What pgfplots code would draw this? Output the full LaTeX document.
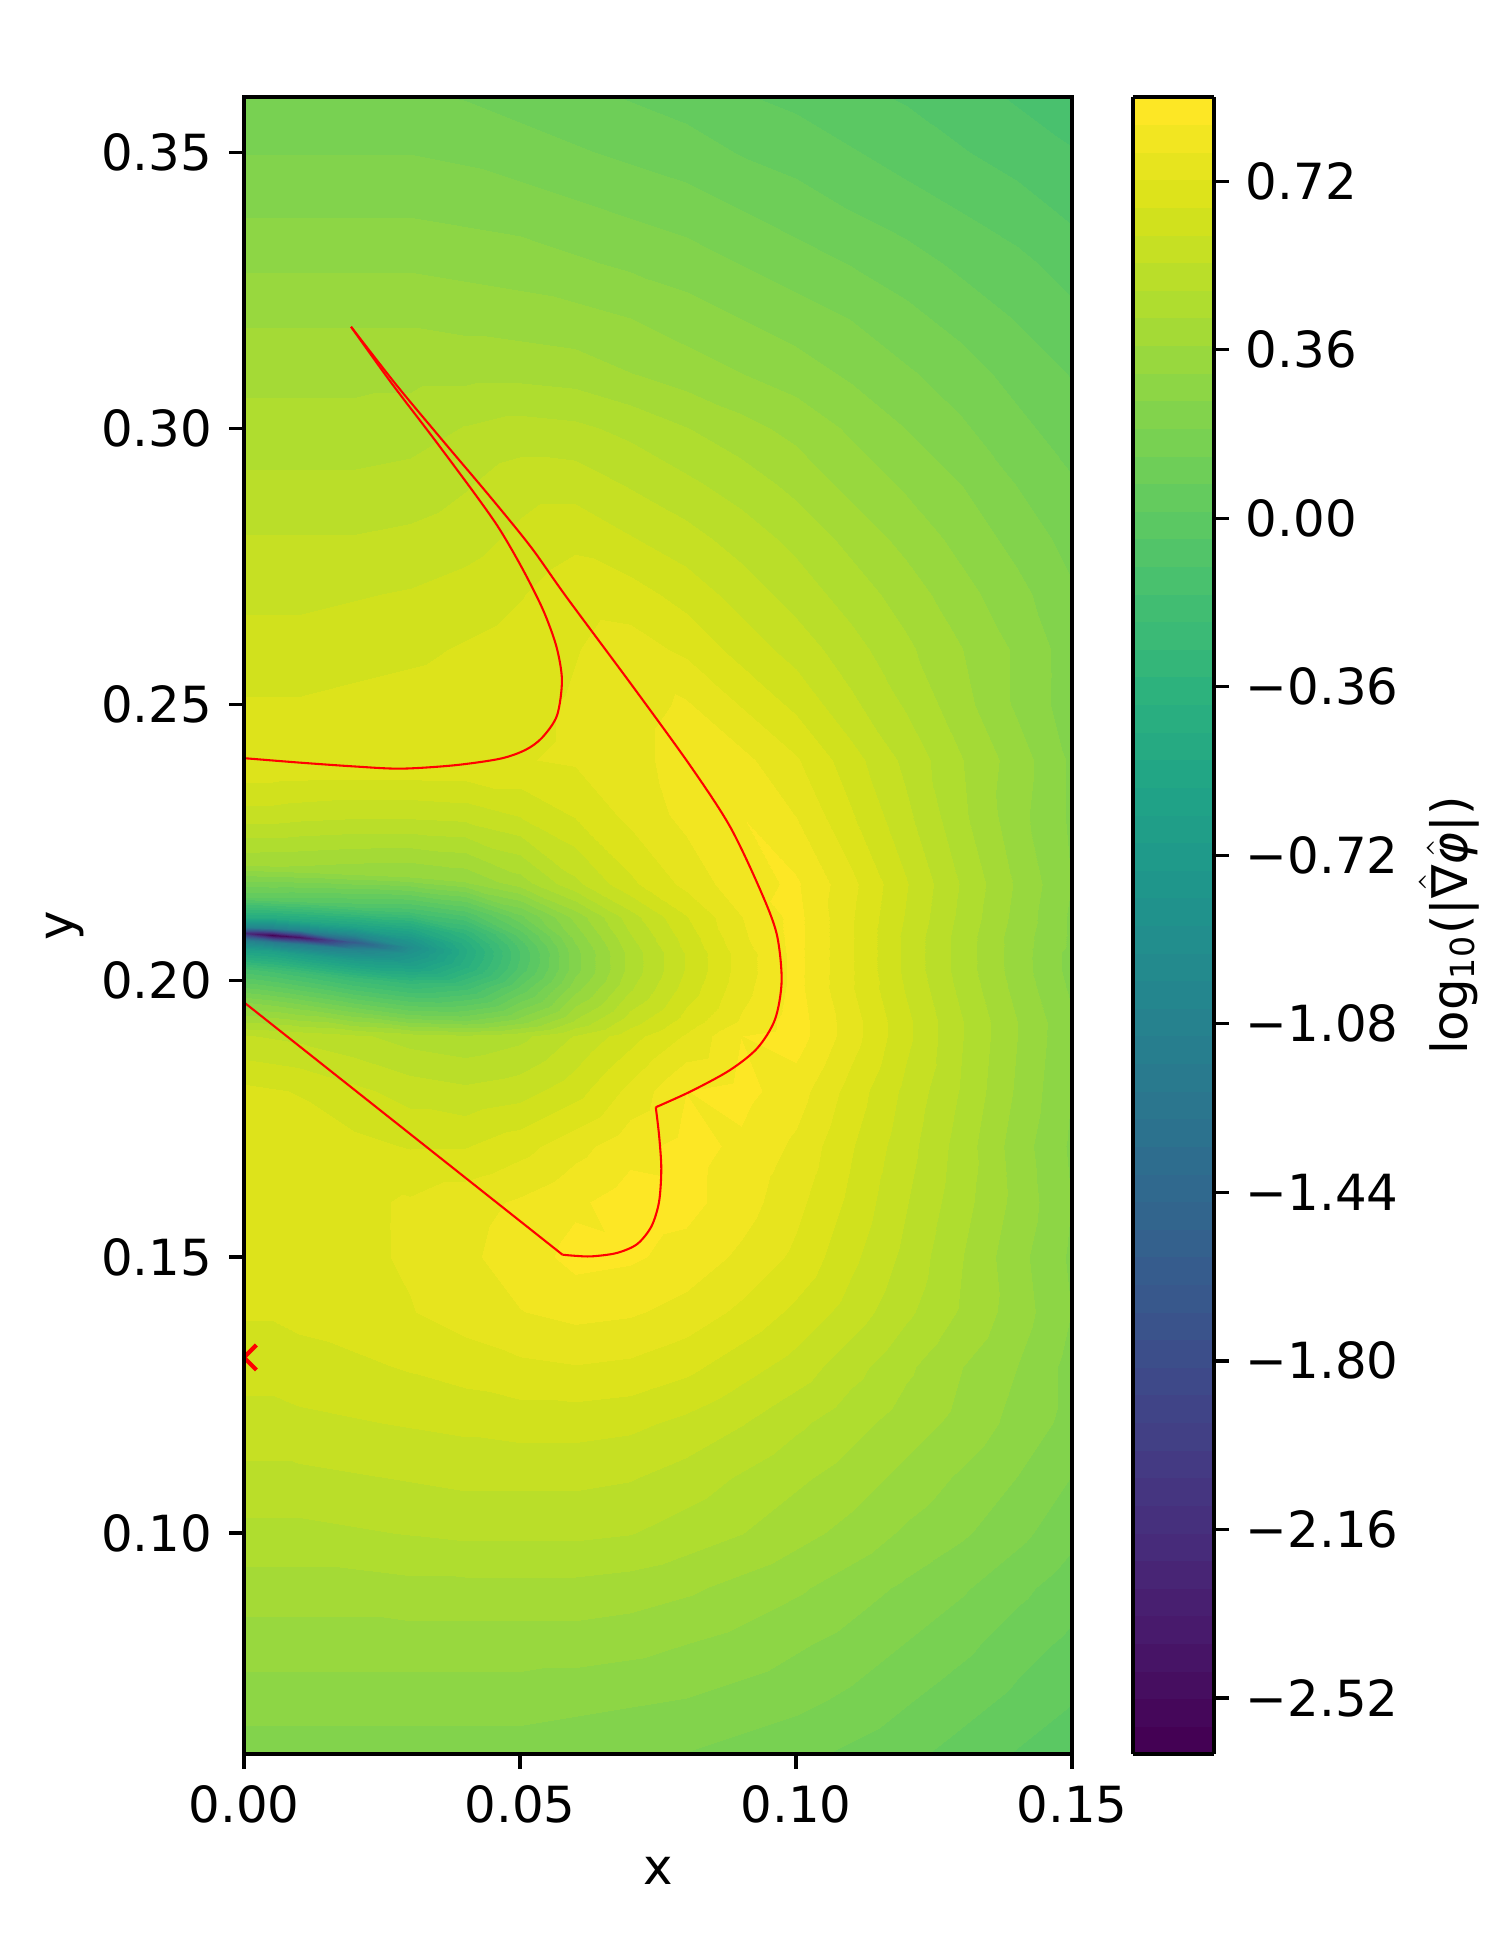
\documentclass[12pt,border=0pt]{standalone}
\usepackage{fontspec}
\setmainfont{DejaVu Sans}
\usepackage{pgfplots}
\pgfplotsset{compat=1.18}
\pgfplotsset{colormap/viridis}
\pgfplotsset{colormap={vir60}{samples of colormap=(60 of viridis)}}
\begin{document}
\begin{tikzpicture}
\useasboundingbox (-0.8133in,-0.6533in) rectangle (4.1867in,5.8467in);
\begin{axis}[
  scale only axis,
  width=2.76in, height=5.5233in,
  xmin=0, xmax=0.15, ymin=0.06, ymax=0.36,
  axis on top,
  colormap name=vir60,
  colormap access=piecewise constant,
  point meta min=-2.64, point meta max=0.90,
  xtick={0,0.05,0.10,0.15}, xticklabels={0.00,0.05,0.10,0.15},
  ytick={0.10,0.15,0.20,0.25,0.30,0.35}, yticklabels={0.10,0.15,0.20,0.25,0.30,0.35},
  tick align=outside, xtick pos=left, ytick pos=left,
  major tick length=3.5pt,
  tick style={black, line width=0.8pt},
  axis line style={line width=0.8pt},
  xlabel={x}, ylabel={y},
  ylabel style={at={(axis description cs:-0.2165,0.5)}, anchor=center},
  clip marker paths=true,
  colorbar right,
  colorbar shift/.style={},
  colorbar style={
    at={(parent axis.north east)}, anchor=north west, xshift=0.2033in,
    width=0.27in,
    ytick={-2.52,-2.16,-1.80,-1.44,-1.08,-0.72,-0.36,0,0.36,0.72},
    yticklabels={−2.52,−2.16,−1.80,−1.44,−1.08,−0.72,−0.36,0.00,0.36,0.72},
    tick align=outside, ytick pos=right, yticklabel pos=right,
    major tick length=3.5pt,
    tick style={black, line width=0.8pt},
    axis line style={line width=0.8pt},
    ylabel={log\textsubscript{10}(|$\hat{\mbox{∇}}\hat{\mbox{\itshape φ}}$|)},
    ylabel style={at={(axis description cs:3.9,0.5)}, anchor=center, rotate=0},
  },
]
\addplot[surf, shader=interp, mesh/cols=17, point meta=explicit] table[x=x, y=y, meta=v] {
x y v
0 0.06 0.22
0.005 0.06 0.22
0.01 0.06 0.22
0.02 0.06 0.22
0.03 0.06 0.22
0.04 0.06 0.22
0.05 0.06 0.22
0.06 0.06 0.21
0.07 0.06 0.20
0.08 0.06 0.19
0.09 0.06 0.17
0.10 0.06 0.15
0.11 0.06 0.12
0.12 0.06 0.09
0.13 0.06 0.05
0.14 0.06 0.01
0.15 0.06 -0.03

0 0.07 0.28
0.005 0.07 0.28
0.01 0.07 0.28
0.02 0.07 0.28
0.03 0.07 0.28
0.04 0.07 0.28
0.05 0.07 0.28
0.06 0.07 0.27
0.07 0.07 0.26
0.08 0.07 0.25
0.09 0.07 0.23
0.10 0.07 0.21
0.11 0.07 0.18
0.12 0.07 0.14
0.13 0.07 0.10
0.14 0.07 0.06
0.15 0.07 0.02

0 0.08 0.34
0.005 0.08 0.34
0.01 0.08 0.34
0.02 0.08 0.34
0.03 0.08 0.34
0.04 0.08 0.34
0.05 0.08 0.34
0.06 0.08 0.34
0.07 0.08 0.33
0.08 0.08 0.31
0.09 0.08 0.29
0.10 0.08 0.26
0.11 0.08 0.23
0.12 0.08 0.19
0.13 0.08 0.15
0.14 0.08 0.10
0.15 0.08 0.06

0 0.09 0.40
0.005 0.09 0.40
0.01 0.09 0.40
0.02 0.09 0.40
0.03 0.09 0.41
0.04 0.09 0.41
0.05 0.09 0.41
0.06 0.09 0.41
0.07 0.09 0.40
0.08 0.09 0.38
0.09 0.09 0.35
0.10 0.09 0.32
0.11 0.09 0.28
0.12 0.09 0.24
0.13 0.09 0.20
0.14 0.09 0.15
0.15 0.09 0.10

0 0.10 0.47
0.005 0.10 0.47
0.01 0.10 0.47
0.02 0.10 0.48
0.03 0.10 0.49
0.04 0.10 0.50
0.05 0.10 0.50
0.06 0.10 0.50
0.07 0.10 0.49
0.08 0.10 0.46
0.09 0.10 0.43
0.10 0.10 0.39
0.11 0.10 0.35
0.12 0.10 0.30
0.13 0.10 0.26
0.14 0.10 0.21
0.15 0.10 0.15

0 0.11 0.53
0.005 0.11 0.53
0.01 0.11 0.53
0.02 0.11 0.54
0.03 0.11 0.55
0.04 0.11 0.56
0.05 0.11 0.56
0.06 0.11 0.56
0.07 0.11 0.55
0.08 0.11 0.52
0.09 0.11 0.48
0.10 0.11 0.44
0.11 0.11 0.40
0.12 0.11 0.35
0.13 0.11 0.30
0.14 0.11 0.25
0.15 0.11 0.19

0 0.12 0.58
0.005 0.12 0.58
0.01 0.12 0.59
0.02 0.12 0.60
0.03 0.12 0.61
0.04 0.12 0.62
0.05 0.12 0.63
0.06 0.12 0.63
0.07 0.12 0.62
0.08 0.12 0.59
0.09 0.12 0.55
0.10 0.12 0.50
0.11 0.12 0.45
0.12 0.12 0.40
0.13 0.12 0.35
0.14 0.12 0.29
0.15 0.12 0.23

0 0.13 0.63
0.005 0.13 0.63
0.01 0.13 0.64
0.02 0.13 0.65
0.03 0.13 0.67
0.04 0.13 0.69
0.05 0.13 0.71
0.06 0.13 0.72
0.07 0.13 0.71
0.08 0.13 0.68
0.09 0.13 0.63
0.10 0.13 0.58
0.11 0.13 0.51
0.12 0.13 0.44
0.13 0.13 0.37
0.14 0.13 0.31
0.15 0.13 0.23

0 0.14 0.67
0.005 0.14 0.67
0.01 0.14 0.68
0.02 0.14 0.70
0.03 0.14 0.72
0.04 0.14 0.75
0.05 0.14 0.78
0.06 0.14 0.80
0.07 0.14 0.79
0.08 0.14 0.76
0.09 0.14 0.71
0.10 0.14 0.65
0.11 0.14 0.58
0.12 0.14 0.50
0.13 0.14 0.42
0.14 0.14 0.34
0.15 0.14 0.25

0 0.15 0.69
0.005 0.15 0.69
0.01 0.15 0.69
0.02 0.15 0.71
0.03 0.15 0.73
0.04 0.15 0.77
0.05 0.15 0.81
0.06 0.15 0.86
0.07 0.15 0.85
0.08 0.15 0.82
0.09 0.15 0.77
0.10 0.15 0.71
0.11 0.15 0.62
0.12 0.15 0.53
0.13 0.15 0.43
0.14 0.15 0.33
0.15 0.15 0.24

0 0.16 0.70
0.005 0.16 0.70
0.01 0.16 0.70
0.02 0.16 0.71
0.03 0.16 0.73
0.04 0.16 0.76
0.05 0.16 0.79
0.06 0.16 0.83
0.07 0.16 0.87
0.08 0.16 0.86
0.09 0.16 0.81
0.10 0.16 0.74
0.11 0.16 0.65
0.12 0.16 0.55
0.13 0.16 0.45
0.14 0.16 0.35
0.15 0.16 0.25

0 0.17 0.70
0.005 0.17 0.70
0.01 0.17 0.70
0.02 0.17 0.68
0.03 0.17 0.66
0.04 0.17 0.66
0.05 0.17 0.70
0.06 0.17 0.76
0.07 0.17 0.82
0.08 0.17 0.86
0.09 0.17 0.83
0.10 0.17 0.77
0.11 0.17 0.67
0.12 0.17 0.57
0.13 0.17 0.46
0.14 0.17 0.34
0.15 0.17 0.24

0 0.18 0.68
0.005 0.18 0.67
0.01 0.18 0.66
0.02 0.18 0.62
0.03 0.18 0.58
0.04 0.18 0.56
0.05 0.18 0.58
0.06 0.18 0.64
0.07 0.18 0.74
0.08 0.18 0.84
0.09 0.18 0.86
0.10 0.18 0.81
0.11 0.18 0.70
0.12 0.18 0.59
0.13 0.18 0.48
0.14 0.18 0.36
0.15 0.18 0.25

0 0.19 0.55
0.005 0.19 0.54
0.01 0.19 0.53
0.02 0.19 0.50
0.03 0.19 0.46
0.04 0.19 0.44
0.05 0.19 0.47
0.06 0.19 0.55
0.07 0.19 0.64
0.08 0.19 0.73
0.09 0.19 0.84
0.10 0.19 0.87
0.11 0.19 0.75
0.12 0.19 0.62
0.13 0.19 0.49
0.14 0.19 0.37
0.15 0.19 0.26

0 0.1961 0.25
0.005 0.1958 0.24
0.01 0.1954 0.22
0.02 0.1945 0.18
0.03 0.1937 0.15
0.04 0.1931 0.17
0.05 0.1927 0.28
0.06 0.1925 0.44
0.07 0.1925 0.58
0.08 0.1925 0.69
0.09 0.1925 0.79
0.10 0.1925 0.87
0.11 0.1925 0.75
0.12 0.1925 0.62
0.13 0.1925 0.49
0.14 0.1925 0.37
0.15 0.1925 0.26

0 0.2021 -0.15
0.005 0.2018 -0.17
0.01 0.2014 -0.20
0.02 0.2005 -0.26
0.03 0.1997 -0.30
0.04 0.1991 -0.20
0.05 0.1987 0.03
0.06 0.1985 0.29
0.07 0.1985 0.48
0.08 0.1985 0.63
0.09 0.1985 0.76
0.10 0.1985 0.86
0.11 0.1985 0.73
0.12 0.1985 0.60
0.13 0.1985 0.47
0.14 0.1985 0.35
0.15 0.1985 0.24

0 0.2056 -0.62
0.005 0.2053 -0.64
0.01 0.2049 -0.67
0.02 0.2040 -0.72
0.03 0.2032 -0.68
0.04 0.2026 -0.42
0.05 0.2022 -0.08
0.06 0.2020 0.23
0.07 0.2020 0.45
0.08 0.2020 0.61
0.09 0.2020 0.75
0.10 0.2020 0.86
0.11 0.2020 0.73
0.12 0.2020 0.59
0.13 0.2020 0.46
0.14 0.2020 0.34
0.15 0.2020 0.23

0 0.2074 -1.10
0.005 0.2071 -1.15
0.01 0.2067 -1.15
0.02 0.2058 -1.05
0.03 0.2050 -0.82
0.04 0.2044 -0.46
0.05 0.2040 -0.10
0.06 0.2038 0.23
0.07 0.2038 0.45
0.08 0.2038 0.61
0.09 0.2038 0.75
0.10 0.2038 0.86
0.11 0.2038 0.73
0.12 0.2038 0.59
0.13 0.2038 0.46
0.14 0.2038 0.34
0.15 0.2038 0.23

0 0.2086 -2.20
0.005 0.2083 -2.60
0.01 0.2079 -2.45
0.02 0.2070 -1.60
0.03 0.2062 -0.90
0.04 0.2056 -0.47
0.05 0.2052 -0.10
0.06 0.2050 0.23
0.07 0.2050 0.45
0.08 0.2050 0.61
0.09 0.2050 0.75
0.10 0.2050 0.86
0.11 0.2050 0.73
0.12 0.2050 0.59
0.13 0.2050 0.46
0.14 0.2050 0.34
0.15 0.2050 0.23

0 0.2098 -1.00
0.005 0.2095 -1.05
0.01 0.2091 -1.05
0.02 0.2082 -1.00
0.03 0.2074 -0.78
0.04 0.2068 -0.43
0.05 0.2064 -0.08
0.06 0.2062 0.24
0.07 0.2062 0.46
0.08 0.2062 0.62
0.09 0.2062 0.76
0.10 0.2062 0.86
0.11 0.2062 0.73
0.12 0.2062 0.59
0.13 0.2062 0.46
0.14 0.2062 0.34
0.15 0.2062 0.24

0 0.2116 -0.45
0.005 0.2113 -0.48
0.01 0.2109 -0.52
0.02 0.2100 -0.57
0.03 0.2092 -0.55
0.04 0.2086 -0.33
0.05 0.2082 -0.02
0.06 0.2080 0.27
0.07 0.2080 0.48
0.08 0.2080 0.63
0.09 0.2080 0.77
0.10 0.2080 0.86
0.11 0.2080 0.73
0.12 0.2080 0.59
0.13 0.2080 0.46
0.14 0.2080 0.34
0.15 0.2080 0.24

0 0.2151 0.02
0.005 0.2148 0.00
0.01 0.2144 -0.03
0.02 0.2135 -0.08
0.03 0.2127 -0.14
0.04 0.2121 -0.08
0.05 0.2117 0.12
0.06 0.2115 0.33
0.07 0.2115 0.52
0.08 0.2115 0.66
0.09 0.2115 0.78
0.10 0.2115 0.86
0.11 0.2115 0.73
0.12 0.2115 0.60
0.13 0.2115 0.47
0.14 0.2115 0.35
0.15 0.2115 0.24

0 0.2211 0.38
0.005 0.2208 0.37
0.01 0.2204 0.36
0.02 0.2195 0.33
0.03 0.2187 0.31
0.04 0.2181 0.32
0.05 0.2177 0.40
0.06 0.2175 0.53
0.07 0.2175 0.65
0.08 0.2175 0.74
0.09 0.2175 0.82
0.10 0.2175 0.85
0.11 0.2175 0.74
0.12 0.2175 0.61
0.13 0.2175 0.48
0.14 0.2175 0.36
0.15 0.2175 0.25

0 0.23 0.58
0.005 0.23 0.58
0.01 0.23 0.57
0.02 0.23 0.56
0.03 0.23 0.56
0.04 0.23 0.57
0.05 0.23 0.61
0.06 0.23 0.67
0.07 0.23 0.74
0.08 0.23 0.80
0.09 0.23 0.84
0.10 0.23 0.78
0.11 0.23 0.67
0.12 0.23 0.56
0.13 0.23 0.44
0.14 0.23 0.33
0.15 0.23 0.24

0 0.24 0.72
0.005 0.24 0.72
0.01 0.24 0.72
0.02 0.24 0.72
0.03 0.24 0.72
0.04 0.24 0.72
0.05 0.24 0.72
0.06 0.24 0.73
0.07 0.24 0.76
0.08 0.24 0.81
0.09 0.24 0.80
0.10 0.24 0.73
0.11 0.24 0.63
0.12 0.24 0.53
0.13 0.24 0.43
0.14 0.24 0.34
0.15 0.24 0.24

0 0.25 0.67
0.005 0.25 0.67
0.01 0.25 0.67
0.02 0.25 0.68
0.03 0.25 0.69
0.04 0.25 0.70
0.05 0.25 0.71
0.06 0.25 0.73
0.07 0.25 0.76
0.08 0.25 0.79
0.09 0.25 0.72
0.10 0.25 0.65
0.11 0.25 0.56
0.12 0.25 0.48
0.13 0.25 0.39
0.14 0.25 0.30
0.15 0.25 0.22

0 0.26 0.63
0.005 0.26 0.63
0.01 0.26 0.63
0.02 0.26 0.64
0.03 0.26 0.65
0.04 0.26 0.67
0.05 0.26 0.69
0.06 0.26 0.72
0.07 0.26 0.75
0.08 0.26 0.71
0.09 0.26 0.64
0.10 0.26 0.58
0.11 0.26 0.51
0.12 0.26 0.44
0.13 0.26 0.37
0.14 0.26 0.30
0.15 0.26 0.22

0 0.27 0.59
0.005 0.27 0.59
0.01 0.27 0.59
0.02 0.27 0.60
0.03 0.27 0.61
0.04 0.27 0.63
0.05 0.27 0.66
0.06 0.27 0.70
0.07 0.27 0.69
0.08 0.27 0.64
0.09 0.27 0.58
0.10 0.27 0.52
0.11 0.27 0.46
0.12 0.27 0.40
0.13 0.27 0.33
0.14 0.27 0.27
0.15 0.27 0.20

0 0.28 0.55
0.005 0.28 0.55
0.01 0.28 0.55
0.02 0.28 0.55
0.03 0.28 0.56
0.04 0.28 0.58
0.05 0.28 0.62
0.06 0.28 0.65
0.07 0.28 0.61
0.08 0.28 0.57
0.09 0.28 0.52
0.10 0.28 0.47
0.11 0.28 0.41
0.12 0.28 0.35
0.13 0.28 0.29
0.14 0.28 0.23
0.15 0.28 0.17

0 0.29 0.50
0.005 0.29 0.50
0.01 0.29 0.50
0.02 0.29 0.50
0.03 0.29 0.51
0.04 0.29 0.54
0.05 0.29 0.58
0.06 0.29 0.58
0.07 0.29 0.54
0.08 0.29 0.50
0.09 0.29 0.46
0.10 0.29 0.41
0.11 0.29 0.35
0.12 0.29 0.30
0.13 0.29 0.25
0.14 0.29 0.19
0.15 0.29 0.14

0 0.30 0.45
0.005 0.30 0.45
0.01 0.30 0.45
0.02 0.30 0.45
0.03 0.30 0.46
0.04 0.30 0.49
0.05 0.30 0.51
0.06 0.30 0.50
0.07 0.30 0.47
0.08 0.30 0.43
0.09 0.30 0.39
0.10 0.30 0.35
0.11 0.30 0.30
0.12 0.30 0.25
0.13 0.30 0.20
0.14 0.30 0.15
0.15 0.30 0.10

0 0.31 0.41
0.005 0.31 0.41
0.01 0.31 0.41
0.02 0.31 0.41
0.03 0.31 0.41
0.04 0.31 0.41
0.05 0.31 0.41
0.06 0.31 0.40
0.07 0.31 0.37
0.08 0.31 0.34
0.09 0.31 0.31
0.10 0.31 0.28
0.11 0.31 0.24
0.12 0.31 0.20
0.13 0.31 0.16
0.14 0.31 0.11
0.15 0.31 0.07

0 0.32 0.36
0.005 0.32 0.36
0.01 0.32 0.36
0.02 0.32 0.36
0.03 0.32 0.36
0.04 0.32 0.35
0.05 0.32 0.34
0.06 0.32 0.33
0.07 0.32 0.31
0.08 0.32 0.28
0.09 0.32 0.25
0.10 0.32 0.22
0.11 0.32 0.19
0.12 0.32 0.15
0.13 0.32 0.11
0.14 0.32 0.07
0.15 0.32 0.03

0 0.33 0.30
0.005 0.33 0.30
0.01 0.33 0.30
0.02 0.33 0.30
0.03 0.33 0.30
0.04 0.33 0.29
0.05 0.33 0.28
0.06 0.33 0.26
0.07 0.33 0.24
0.08 0.33 0.22
0.09 0.33 0.19
0.10 0.33 0.16
0.11 0.33 0.13
0.12 0.33 0.10
0.13 0.33 0.06
0.14 0.33 0.03
0.15 0.33 -0.01

0 0.34 0.24
0.005 0.34 0.24
0.01 0.34 0.24
0.02 0.34 0.24
0.03 0.34 0.24
0.04 0.34 0.23
0.05 0.34 0.22
0.06 0.34 0.20
0.07 0.34 0.18
0.08 0.34 0.16
0.09 0.34 0.13
0.10 0.34 0.10
0.11 0.34 0.07
0.12 0.34 0.04
0.13 0.34 0.01
0.14 0.34 -0.02
0.15 0.34 -0.06

0 0.35 0.19
0.005 0.35 0.19
0.01 0.35 0.19
0.02 0.35 0.19
0.03 0.35 0.19
0.04 0.35 0.18
0.05 0.35 0.16
0.06 0.35 0.14
0.07 0.35 0.12
0.08 0.35 0.10
0.09 0.35 0.07
0.10 0.35 0.05
0.11 0.35 0.02
0.12 0.35 -0.01
0.13 0.35 -0.04
0.14 0.35 -0.07
0.15 0.35 -0.10

0 0.36 0.15
0.005 0.36 0.15
0.01 0.36 0.15
0.02 0.36 0.15
0.03 0.36 0.14
0.04 0.36 0.13
0.05 0.36 0.11
0.06 0.36 0.09
0.07 0.36 0.07
0.08 0.36 0.05
0.09 0.36 0.02
0.10 0.36 0.00
0.11 0.36 -0.03
0.12 0.36 -0.05
0.13 0.36 -0.08
0.14 0.36 -0.11
0.15 0.36 -0.13
};
\addplot[red, line width=0.5pt, no marks, smooth, tension=0.5] coordinates {
(0,0.2403) (0.0100,0.2395) (0.0200,0.2388) (0.0284,0.2384) (0.0380,0.2390) (0.0464,0.2402)
(0.0510,0.2418) (0.0540,0.2440) (0.0567,0.2480) (0.0576,0.2544) (0.0566,0.2605) (0.0542,0.2671)
(0.0505,0.2745) (0.0464,0.2816) (0.0423,0.2875) (0.0345,0.2980) (0.0265,0.3085) (0.0194,0.3184)
};
\addplot[red, line width=0.5pt, no marks, smooth, tension=0.5] coordinates {
(0.0194,0.3184) (0.0275,0.3080) (0.0360,0.2978) (0.0447,0.2875) (0.0520,0.2785) (0.0584,0.2695)
(0.0705,0.2532) (0.0808,0.2390) (0.0880,0.2280) (0.0935,0.2165) (0.0965,0.2085) (0.0974,0.2000)
(0.0962,0.1930) (0.0930,0.1878) (0.0880,0.1838) (0.0810,0.1800) (0.0746,0.1771)
};
\addplot[red, line width=0.5pt, no marks, smooth, tension=0.5] coordinates {
(0.0746,0.1771) (0.0752,0.1720) (0.0756,0.1660) (0.0752,0.1600) (0.0738,0.1555) (0.0712,0.1523)
(0.0675,0.1507) (0.0630,0.1501) (0.0600,0.1502) (0.0577,0.1504)
};
\addplot[red, line width=0.5pt, no marks] coordinates {(0.0577,0.1504) (0,0.1961)};
\addplot[red, only marks, mark=x, mark size=4.25pt, line width=1pt] coordinates {(0,0.1318)};
\end{axis}
\end{tikzpicture}
\end{document}
